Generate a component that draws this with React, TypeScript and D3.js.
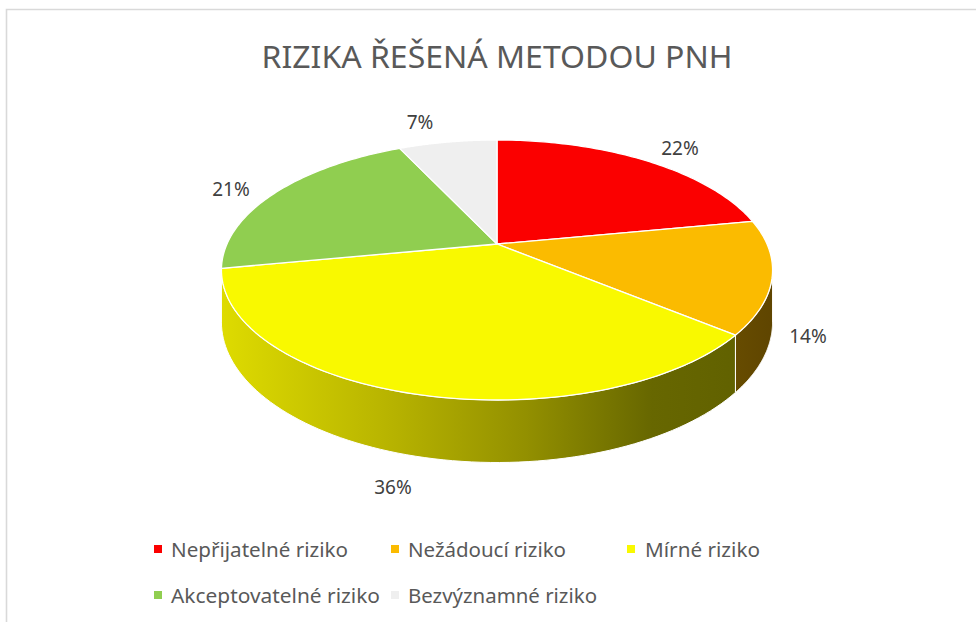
import React from "react";
import * as d3 from "d3";

const categories = ["Nepřijatelné riziko", "Nežádoucí riziko", "Mírné riziko", "Akceptovatelné riziko", "Bezvýznamné riziko"];
const values = [22, 14, 36, 21, 7];
const labels = ["22%", "14%", "36%", "21%", "7%"];
const topColors = ["#FB0000", "#FBBB00", "#F9F900", "#90CE50", "#EFEFEF"];
const title = "RIZIKA ŘEŠENÁ METODOU PNH";

const W = 976;
const H = 622;
const AX = 497; // projected centre
const AY = 244;
const A = 270;
const B = 124.8;
const K = 0.2;
const DEPTH = 50;
const FONT = "'Noto Sans', 'Open Sans', sans-serif";

function proj(phi: number, r = 1) {
  const u = Math.sin(phi) * r;
  const v = -Math.cos(phi) * r;
  const s = 1 / (1 - K * v);
  return { x: AX + A * u * s, y: AY + B * v * s, s };
}

function arcPts(a0: number, a1: number, n = 80) {
  const pts: { x: number; y: number; s: number }[] = [];
  for (let i = 0; i <= n; i++) pts.push(proj(a0 + ((a1 - a0) * i) / n));
  return pts;
}

export default function App() {
  const pie = d3.pie<number>().sort(null).value((d) => d)(values);
  const silL = Math.acos(-K);
  const silR = 2 * Math.PI - Math.acos(-K);
  const line = d3.line<{ x: number; y: number }>().x((d) => d.x).y((d) => d.y);

  const sides = pie
    .map((p, i) => {
      const a0 = Math.max(p.startAngle, silL);
      const a1 = Math.min(p.endAngle, silR);
      if (a1 <= a0) return null;
      const top = arcPts(a0, a1);
      const bot = top.map((q) => ({ x: q.x, y: q.y + DEPTH * q.s })).reverse();
      return { i, d: line([...top, ...bot])! + "Z", a0, a1 };
    })
    .filter(Boolean) as { i: number; d: string; a0: number; a1: number }[];

  const tops = pie.map((p, i) => {
    const pts = [{ x: AX, y: AY }, ...arcPts(p.startAngle, p.endAngle)];
    return { i, d: line(pts)! + "Z" };
  });

  const labelPos: [number, number][] = [
    [680, 148],
    [808, 336],
    [393, 487],
    [231, 189],
    [420, 122],
  ];

  const legendCols = [154, 391, 627];
  const legendRows = [549, 595];
  const legendTextX = [171, 408, 645];
  const legendWidths = [177, 158, 115, 209, 189];

  return (
    <svg width={W} height={H} style={{ position: "absolute", left: 0, top: 0 }}>
      <defs>
        <linearGradient id="gY" gradientUnits="userSpaceOnUse" x1={222} x2={773} y1={0} y2={0}>
          <stop offset="0" stopColor="#DEDB00" />
          <stop offset="0.3" stopColor="#B8B400" />
          <stop offset="0.55" stopColor="#939000" />
          <stop offset="0.78" stopColor="#676700" />
          <stop offset="1" stopColor="#5F5F00" />
        </linearGradient>
        <linearGradient id="gO" gradientUnits="userSpaceOnUse" x1={700} x2={773} y1={0} y2={0}>
          <stop offset="0" stopColor="#6E5200" />
          <stop offset="1" stopColor="#5F4500" />
        </linearGradient>
        <linearGradient id="gR" gradientUnits="userSpaceOnUse" x1={222} x2={773} y1={0} y2={0}>
          <stop offset="0" stopColor="#B00000" />
          <stop offset="1" stopColor="#600000" />
        </linearGradient>
        <linearGradient id="gG" gradientUnits="userSpaceOnUse" x1={222} x2={773} y1={0} y2={0}>
          <stop offset="0" stopColor="#78B040" />
          <stop offset="1" stopColor="#405F20" />
        </linearGradient>
        <linearGradient id="gW" gradientUnits="userSpaceOnUse" x1={222} x2={773} y1={0} y2={0}>
          <stop offset="0" stopColor="#D0D0D0" />
          <stop offset="1" stopColor="#808080" />
        </linearGradient>
      </defs>
      <rect x={0} y={0} width={W} height={H} fill="#FFFFFF" />
      <path d={`M6.5,${H} V9.5 H${W}`} fill="none" stroke="#D9D9D9" strokeWidth={1.6} />
      <text
        x={497}
        y={68}
        textAnchor="middle"
        fontFamily={FONT}
        fontSize={31}
        fill="#595959"
        textLength={471}
        lengthAdjust="spacingAndGlyphs"
      >
        {title}
      </text>
      <g>
        {sides.map((s) => (
          <path
            key={"s" + s.i}
            d={s.d}
            fill={["url(#gR)", "url(#gO)", "url(#gY)", "url(#gG)", "url(#gW)"][s.i]}
            stroke="#FFFFFF"
            strokeWidth={1}
            strokeLinejoin="round"
          />
        ))}
        {tops.map((t) => (
          <path key={"t" + t.i} d={t.d} fill={topColors[t.i]} stroke="#FFFFFF" strokeWidth={1.3} strokeLinejoin="round" />
        ))}
      </g>
      <g fontFamily={FONT} fontSize={19} fill="#404040">
        {labels.map((l, i) => (
          <text key={l} x={labelPos[i][0]} y={labelPos[i][1]} textAnchor="middle" dominantBaseline="central">
            {l}
          </text>
        ))}
      </g>
      <g fontFamily={FONT} fontSize={19.5} fill="#595959">
        {categories.map((c, i) => {
          const col = i % 3;
          const row = Math.floor(i / 3);
          const cy = legendRows[row];
          return (
            <g key={c}>
              <rect x={legendCols[col]} y={cy - 4} width={8} height={8} fill={topColors[i]} />
              <text
                x={legendTextX[col]}
                y={cy}
                dominantBaseline="central"
                textLength={legendWidths[i]}
                lengthAdjust="spacingAndGlyphs"
              >
                {c}
              </text>
            </g>
          );
        })}
      </g>
    </svg>
  );
}
